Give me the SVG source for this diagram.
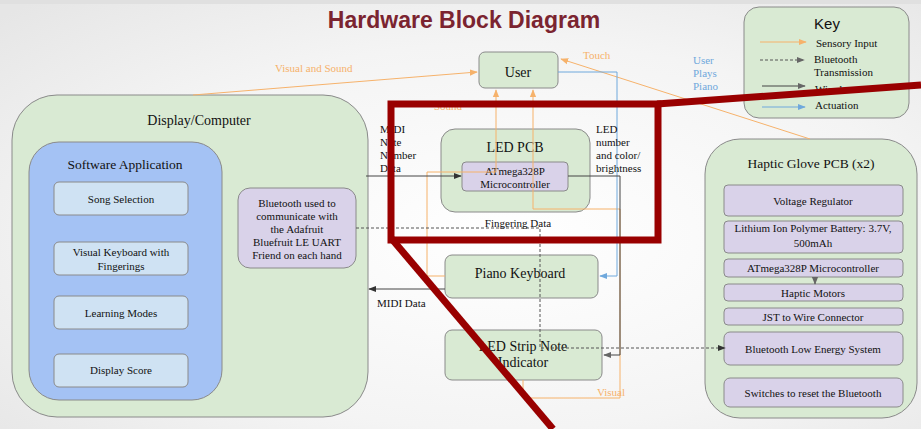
<svg xmlns="http://www.w3.org/2000/svg" width="921" height="429" viewBox="0 0 921 429">
  <defs>
    <radialGradient id="bg" cx="0.55" cy="0.55" r="0.75">
      <stop offset="0" stop-color="#ffffff"/>
      <stop offset="0.6" stop-color="#f4f4f4"/>
      <stop offset="1" stop-color="#e6e6e6"/>
    </radialGradient>
    <marker id="arrOrange" viewBox="0 0 10 10" refX="9" refY="5" markerWidth="8" markerHeight="8" markerUnits="userSpaceOnUse" orient="auto">
      <path d="M0,1 L10,5 L0,9 z" fill="#f6b26b"/>
    </marker>
    <marker id="arrBlue" viewBox="0 0 10 10" refX="9" refY="5" markerWidth="8" markerHeight="8" markerUnits="userSpaceOnUse" orient="auto">
      <path d="M0,1 L10,5 L0,9 z" fill="#6fa8dc"/>
    </marker>
    <marker id="arrDark" viewBox="0 0 10 10" refX="9" refY="5" markerWidth="8" markerHeight="8" markerUnits="userSpaceOnUse" orient="auto">
      <path d="M0,1 L10,5 L0,9 z" fill="#333333"/>
    </marker>
    <marker id="arrGray" viewBox="0 0 10 10" refX="9" refY="5" markerWidth="8" markerHeight="8" markerUnits="userSpaceOnUse" orient="auto">
      <path d="M0,1 L10,5 L0,9 z" fill="#666666"/>
    </marker>
    <style>
      .t { font-family: "Liberation Serif", "Times New Roman", serif; fill: #111; }
      .s { font-family: "Liberation Sans", Arial, sans-serif; }
      .c { text-anchor: middle; }
      .f11 { font-size: 11px; }
      .f14 { font-size: 14px; }
      .green { fill: #d9ead3; stroke: #8a8a8a; stroke-width: 1; }
      .purple { fill: #d9d2e9; stroke: #8a8a8a; stroke-width: 1; }
      .blue { fill: #a4c2f4; stroke: #8a8a8a; stroke-width: 1; }
      .lblue { fill: #cfe2f3; stroke: #8a8a8a; stroke-width: 1; }
      .orange { fill: none; stroke: #f6b26b; stroke-width: 1; }
      .act { fill: none; stroke: #6fa8dc; stroke-width: 1; }
      .wire { fill: none; stroke: #444; stroke-width: 1; }
      .bt { fill: none; stroke: #555; stroke-width: 1; stroke-dasharray: 3 2; }
      .otxt { fill: #f6b26b; }
      .btxt { fill: #6fa8dc; }
      .hl { fill: none; stroke: #990000; stroke-width: 7; }
    </style>
  </defs>

  <!-- page background -->
  <rect width="921" height="429" fill="url(#bg)"/>
  <rect width="921" height="4" fill="#e0e0e0"/>

  <text class="s c" x="464" y="28" font-size="23" font-weight="bold" fill="#7b2430">Hardware Block Diagram</text>

  <!-- legend -->
  <g id="key">
    <rect class="green" x="744" y="7" width="165" height="111" rx="15"/>
    <text class="s c" x="827" y="29" font-size="15" fill="#111">Key</text>
    <line class="orange" x1="760" y1="42" x2="806" y2="42" marker-end="url(#arrOrange)"/>
    <text class="t f11" x="816" y="47">Sensory Input</text>
    <line class="bt" x1="760" y1="60" x2="804" y2="60" marker-end="url(#arrGray)"/>
    <text class="t f11" x="814" y="63">Bluetooth</text>
    <text class="t f11" x="814" y="76">Transmission</text>
    <line class="wire" x1="762" y1="86" x2="805" y2="86" stroke="#555" marker-end="url(#arrGray)"/>
    <text class="t f11" x="815" y="93">Wired</text>
    <line class="act" x1="762" y1="107" x2="805" y2="107" marker-end="url(#arrBlue)"/>
    <text class="t f11" x="815" y="109">Actuation</text>
  </g>

  <g id="display-computer">
    <rect class="green" x="12" y="95" width="356" height="322" rx="45"/>
    <text class="t c f14" x="199" y="125">Display/Computer</text>
  </g>

  <g id="software-application">
    <rect class="blue" x="29" y="142" width="193" height="258" rx="30"/>
    <text class="t c" x="125" y="169" font-size="13.5">Software Application</text>
  </g>

  <g id="song-selection">
    <rect class="lblue" x="54" y="182" width="134" height="33" rx="5"/>
    <text class="t c f11" x="121" y="203">Song Selection</text>
  </g>

  <g id="visual-keyboard">
    <rect class="lblue" x="54" y="242" width="134" height="33" rx="5"/>
    <text class="t c f11" x="121" y="256">Visual Keyboard with</text>
    <text class="t c f11" x="121" y="270">Fingerings</text>
  </g>

  <g id="learning-modes">
    <rect class="lblue" x="54" y="296" width="134" height="33" rx="5"/>
    <text class="t c f11" x="121" y="317">Learning Modes</text>
  </g>

  <g id="display-score">
    <rect class="lblue" x="54" y="354" width="134" height="33" rx="5"/>
    <text class="t c f11" x="121" y="374">Display Score</text>
  </g>

  <g id="bluetooth-module">
    <rect class="purple" x="238" y="188" width="118" height="80" rx="12"/>
    <text class="t c f11" x="297" y="207">Bluetooth used to</text>
    <text class="t c f11" x="297" y="220">communicate with</text>
    <text class="t c f11" x="297" y="233">the Adafruit</text>
    <text class="t c f11" x="297" y="246">Bluefruit LE UART</text>
    <text class="t c f11" x="297" y="259">Friend on each hand</text>
  </g>

  <g id="user">
    <rect class="green" x="479" y="52" width="79" height="36" rx="6"/>
    <text class="t c f14" x="518" y="77">User</text>
  </g>

  <g id="led-pcb">
    <rect class="green" x="441" y="129" width="149" height="83" rx="14"/>
    <text class="t c f14" x="515" y="152">LED PCB</text>
  </g>

  <g id="led-pcb-mcu">
    <rect class="purple" x="462" y="162" width="106" height="29" rx="4"/>
    <text class="t c f11" x="515" y="175">ATmega328P</text>
    <text class="t c f11" x="515" y="188">Microcontroller</text>
  </g>

  <g id="piano-keyboard">
    <rect class="green" x="445" y="255" width="153" height="43" rx="7"/>
    <text class="t c f14" x="520" y="278">Piano Keyboard</text>
  </g>

  <g id="led-strip">
    <rect class="green" x="445" y="330" width="157" height="50" rx="7"/>
    <text class="t c f14" x="523" y="351">LED Strip Note</text>
    <text class="t c f14" x="523" y="367">Indicator</text>
  </g>

  <g id="haptic-glove">
    <rect class="green" x="705" y="139" width="212" height="279" rx="35"/>
    <text class="t c" x="811" y="168" font-size="13.5">Haptic Glove PCB (x2)</text>
  </g>

  <g id="voltage-regulator">
    <rect class="purple" x="724" y="185" width="179" height="31" rx="4"/>
    <text class="t c f11" x="813" y="205">Voltage Regulator</text>
  </g>

  <g id="battery">
    <rect class="purple" x="724" y="221" width="179" height="32" rx="4"/>
    <text class="t c f11" x="813" y="232">Lithium Ion Polymer Battery: 3.7V,</text>
    <text class="t c f11" x="813" y="247">500mAh</text>
  </g>

  <g id="glove-mcu">
    <rect class="purple" x="724" y="259" width="179" height="18" rx="4"/>
    <text class="t c f11" x="813" y="272">ATmega328P  Microcontroller</text>
  </g>

  <g id="haptic-motors">
    <rect class="purple" x="724" y="284" width="179" height="17" rx="4"/>
    <text class="t c f11" x="813" y="297">Haptic Motors</text>
  </g>

  <g id="jst-connector">
    <rect class="purple" x="724" y="308" width="179" height="17" rx="4"/>
    <text class="t c f11" x="813" y="321">JST to Wire Connector</text>
  </g>

  <g id="ble-system">
    <rect class="purple" x="724" y="332" width="179" height="33" rx="6"/>
    <text class="t c f11" x="813" y="353">Bluetooth Low Energy System</text>
  </g>

  <g id="reset-switches">
    <rect class="purple" x="724" y="378" width="179" height="29" rx="6"/>
    <text class="t c f11" x="813" y="397">Switches to reset the Bluetooth</text>
  </g>

  <!-- connectors -->
  <g id="connectors">
    <!-- sensory input -->
    <line class="orange" x1="193" y1="95" x2="477" y2="72" marker-end="url(#arrOrange)"/>
    <line class="orange" x1="810" y1="139" x2="561" y2="59" marker-end="url(#arrOrange)"/>
    <polyline class="orange" points="445,276 427,276 427,172 496,172 496,90" marker-end="url(#arrOrange)"/>
    <polyline class="orange" points="523,380 523,398 620,398 620,209 533,209 533,90" marker-end="url(#arrOrange)"/>
    <!-- actuation -->
    <polyline class="act" points="558,72 617,72 617,276 600,276" marker-end="url(#arrBlue)"/>
    <!-- wired -->
    <line class="wire" x1="366" y1="176" x2="461" y2="176" marker-end="url(#arrDark)"/>
    <polyline class="wire" points="568,176 620,176 620,355 604,355" stroke="#666" marker-end="url(#arrGray)"/>
    <line class="wire" x1="445" y1="289" x2="369" y2="289" marker-end="url(#arrDark)"/>
    <line class="wire" x1="815" y1="277" x2="815" y2="284" stroke="#666" marker-end="url(#arrGray)"/>
    <!-- bluetooth -->
    <polyline class="bt" points="356,228 540,228 540,348 725,348" stroke="#444" marker-end="url(#arrDark)"/>
  </g>

  <!-- connector labels -->
  <g id="labels">
    <text class="t f11 otxt" x="275" y="72">Visual and Sound</text>
    <text class="t f11 otxt" x="583" y="59">Touch</text>
    <text class="t f11 otxt" x="434" y="110">Sound</text>
    <text class="t f11 otxt" x="597" y="396">Visual</text>
    <text class="t f11 btxt" x="693" y="64">User</text>
    <text class="t f11 btxt" x="693" y="77">Plays</text>
    <text class="t f11 btxt" x="693" y="90">Piano</text>
    <text class="t f11" x="380" y="133">MIDI</text>
    <text class="t f11" x="380" y="146">Note</text>
    <text class="t f11" x="380" y="159">Number</text>
    <text class="t f11" x="380" y="172">Data</text>
    <text class="t f11" x="596" y="133">LED</text>
    <text class="t f11" x="596" y="146">number</text>
    <text class="t f11" x="596" y="159">and color/</text>
    <text class="t f11" x="596" y="172">brightness</text>
    <text class="t c f11" x="518" y="227">Fingering Data</text>
    <text class="t f11" x="377" y="307">MIDI Data</text>
  </g>

  <!-- highlight frame drawn over the LED PCB section -->
  <g id="highlight">
    <rect class="hl" x="391" y="104" width="267" height="136"/>
    <line class="hl" x1="657" y1="104" x2="921" y2="85"/>
    <line class="hl" x1="391" y1="238" x2="553" y2="429"/>
  </g>
</svg>
